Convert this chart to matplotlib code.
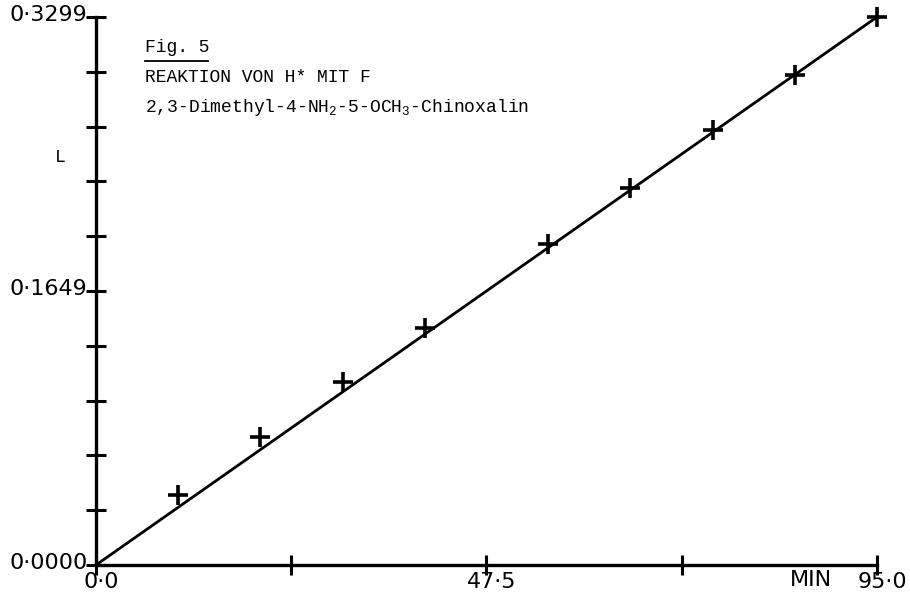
import matplotlib
matplotlib.use("Agg")
import matplotlib.pyplot as plt
import numpy as np
from matplotlib.lines import Line2D
import matplotlib.transforms as mtransforms

# ---- data ----
time_min = [10, 20, 30, 40, 55, 65, 75, 85, 95]
L_values = [0.0421, 0.0771, 0.1102, 0.1427, 0.1933, 0.2270, 0.2619, 0.2950, 0.3299]
fit_x = [0.0, 95.0]
fit_y = [0.0, 0.3299]

x_major = [0.0, 47.5, 95.0]
x_major_labels = ["0·0", "47·5", "95·0"]
x_minor = [23.75, 71.25]
y_major = [0.0, 0.1649, 0.3299]
y_major_labels = ["0·0000", "0·1649", "0·3299"]
y_minor = [0.03299 * k for k in (1, 2, 3, 4, 6, 7, 8, 9)]

title_lines = ["Fig. 5", "REAKTION VON H* MIT F",
               r"2,3-Dimethyl-4-NH$_2$-5-OCH$_3$-Chinoxalin"]

plt.rcParams['mathtext.fontset'] = 'custom'
plt.rcParams['mathtext.rm'] = 'Liberation Mono'
plt.rcParams['mathtext.it'] = 'Liberation Mono'

fig = plt.figure(figsize=(9.10, 5.96), dpi=100)
ax = fig.add_axes([96/910, (596-565)/596, 781/910, 548/596])
ax.set_xlim(0, 95)
ax.set_ylim(0, 0.3299)

ax.plot(fit_x, fit_y, color='black', lw=2.0, solid_capstyle='butt', clip_on=False)
ax.plot(time_min, L_values, ls='none', marker='+', ms=15, mew=2.6,
        color='black', clip_on=False)

for s in ('top', 'right'):
    ax.spines[s].set_visible(False)
for s in ('left', 'bottom'):
    ax.spines[s].set_linewidth(2.4)

tickfont = ['Liberation Sans Narrow', 'DejaVu Sans']
ax.set_xticks(x_major)
ax.set_xticklabels(x_major_labels, fontfamily=tickfont, fontsize=16)
ax.set_xticks(x_minor, minor=True)
ax.set_yticks(y_major)
ax.set_yticklabels(y_major_labels, fontfamily=tickfont, fontsize=16)
ax.set_yticks(y_minor, minor=True)
ax.tick_params(which='both', direction='inout', length=14, width=2.2, color='black')
ax.tick_params(axis='y', which='both', pad=-1)
ax.tick_params(axis='x', which='both', pad=-2)

# small vertical shift of y-tick labels (printed slightly above ticks)
for lab in ax.get_yticklabels():
    lab.set_transform(lab.get_transform() + mtransforms.ScaledTranslation(0, 4/100, fig.dpi_scale_trans))
for lab in ax.get_xticklabels():
    lab.set_transform(lab.get_transform() + mtransforms.ScaledTranslation(5/100, 0, fig.dpi_scale_trans))

# x unit label
ax.text(87, 0.0, "MIN", fontfamily=tickfont, fontsize=16,
        ha='center', va='top',
        ).set_transform(ax.transData + mtransforms.ScaledTranslation(0, -5/100, fig.dpi_scale_trans))

# y label
fig.text(60/910, 1 - 157/596, "L", fontfamily='Liberation Mono', fontsize=13,
         ha='center', va='center')

# title block
mono = 'Liberation Mono'
fig.text(145/910, 1 - 47/596, title_lines[0], fontfamily=mono, fontsize=13,
         ha='left', va='center')
fig.add_artist(Line2D([145/910, 208/910], [1 - 61/596, 1 - 61/596],
                      transform=fig.transFigure, color='black', lw=1.3))
fig.text(145/910, 1 - 78/596, title_lines[1], fontfamily=mono, fontsize=13,
         ha='left', va='center')
fig.text(145/910, 1 - 107/596, title_lines[2], fontfamily=mono, fontsize=13,
         ha='left', va='center')

fig.savefig("out.png", dpi=100)
